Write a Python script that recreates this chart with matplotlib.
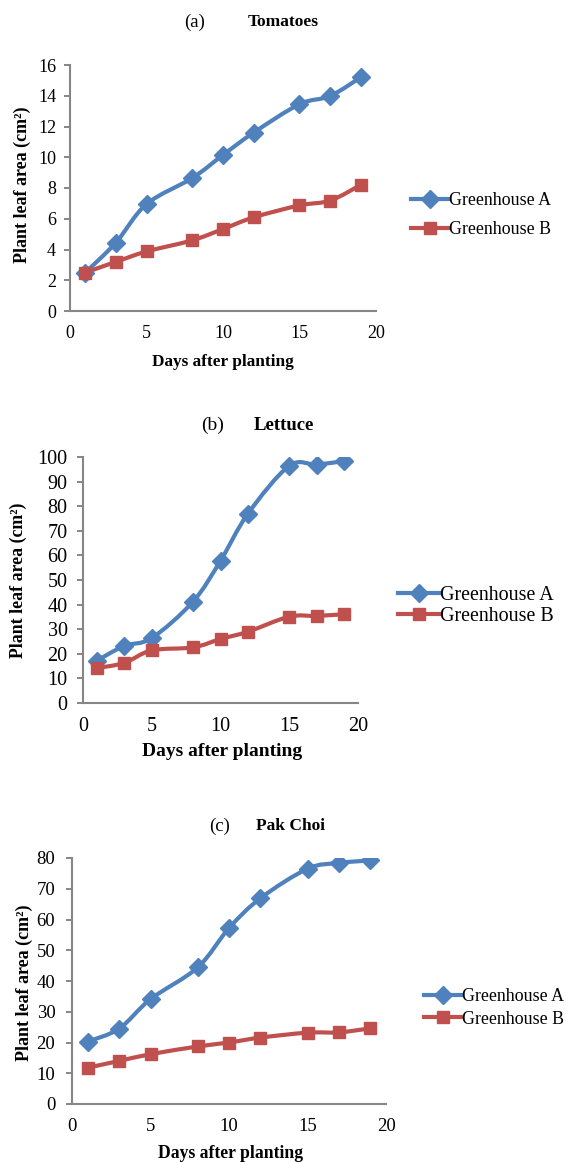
import matplotlib
matplotlib.use('Agg')
import matplotlib.pyplot as plt
import numpy as np
from matplotlib.path import Path
from matplotlib.patches import PathPatch
from matplotlib.lines import Line2D

plt.rcParams['font.family'] = ['Liberation Serif', 'DejaVu Serif']

days = [1, 3, 5, 8, 10, 12, 15, 17, 19]

tomato_a = [2.5, 4.45, 6.95, 8.65, 10.15, 11.6, 13.45, 13.98, 15.2]
tomato_b = [2.5, 3.2, 3.87, 4.6, 5.33, 6.09, 6.87, 7.18, 8.2]

lettuce_a = [17.2, 23.2, 26.4, 41.2, 57.8, 77.0, 96.4, 96.9, 98.4]
lettuce_b = [14.2, 16.3, 21.4, 22.6, 26.0, 29.0, 35.1, 35.4, 36.1]

pakchoi_a = [20.3, 24.5, 34.1, 44.4, 57.2, 66.9, 76.5, 78.4, 79.2]
pakchoi_b = [11.8, 14.0, 16.2, 18.7, 20.0, 21.6, 23.2, 23.3, 24.6]

series_names = ['Greenhouse A', 'Greenhouse B']
BLUE = '#4F81BD'
RED = '#C0504D'
AXIS_GREY = '#868686'
LW = 3.0
MS_A, MS_B = 9, 8.5

W, H = 566, 1162
fig = plt.figure(figsize=(W / 100, H / 100), dpi=100)


def px_box(left, right, top, bottom):
    return [left / W, 1 - bottom / H, (right - left) / W, (bottom - top) / H]


def smooth_path(x, y):
    # cubic bezier through every point (Excel-style smoothed line)
    pts = np.column_stack([np.asarray(x, float), np.asarray(y, float)])
    verts = [pts[0]]
    codes = [Path.MOVETO]
    n = len(pts)
    for i in range(n - 1):
        p0 = pts[i - 1] if i > 0 else pts[i]
        p1 = pts[i]
        p2 = pts[i + 1]
        p3 = pts[i + 2] if i + 2 < n else pts[i + 1]
        verts += [p1 + (p2 - p0) / 6.0, p2 - (p3 - p1) / 6.0, p2]
        codes += [Path.CURVE4] * 3
    return Path(verts, codes)


def panel(box, ya, yb, ymax, ystep, letter, name, title_xy, xlabel_xy,
          ylabel_xy, legend_xy, fs):
    tick_fs, ypad, xlab_fs, ylab_fs, leg_fs, name_fs, letter_fs, leg_sp = fs
    ax = fig.add_axes(px_box(*box))
    for ys, col, mk, ms in [(ya, BLUE, 'D', MS_A), (yb, RED, 's', MS_B)]:
        ax.add_patch(PathPatch(smooth_path(days, ys), fill=False,
                               edgecolor=col, lw=LW, capstyle='round',
                               joinstyle='round', zorder=3))
        ax.plot(days, ys, linestyle='none', marker=mk, ms=ms, color=col,
                zorder=4)
    ax.set_xlim(0, 20)
    ax.set_ylim(0, ymax)
    ax.set_xticks(np.arange(0, 21, 5))
    ax.set_yticks(np.arange(0, ymax + 0.1, ystep))
    for s in ['top', 'right']:
        ax.spines[s].set_visible(False)
    for s in ['left', 'bottom']:
        ax.spines[s].set_color(AXIS_GREY)
        ax.spines[s].set_linewidth(1.5)
    ax.tick_params(axis='y', direction='out', length=4, width=1.4,
                   color=AXIS_GREY, labelsize=tick_fs, pad=ypad)
    ax.tick_params(axis='x', length=0, labelsize=tick_fs, pad=10)

    fig.text(title_xy[0] / W, 1 - title_xy[2] / H, letter, ha='center',
             va='center', fontsize=letter_fs)
    fig.text(title_xy[1] / W, 1 - title_xy[2] / H, name, ha='center',
             va='center', fontsize=name_fs, fontweight='bold')
    fig.text(xlabel_xy[0] / W, 1 - xlabel_xy[1] / H, 'Days after planting',
             ha='center', va='center', fontsize=xlab_fs, fontweight='bold')
    fig.text(ylabel_xy[0] / W, 1 - ylabel_xy[1] / H, 'Plant leaf area (cm²)',
             ha='center', va='center', rotation=90, fontsize=ylab_fs,
             fontweight='bold')

    handles = [Line2D([], [], color=BLUE, lw=LW, marker='D', ms=MS_A),
               Line2D([], [], color=RED, lw=LW, marker='s', ms=MS_B)]
    fig.legend(handles, series_names, loc='center left',
               bbox_to_anchor=(legend_xy[0] / W, 1 - legend_xy[1] / H),
               frameon=False, fontsize=leg_fs, handlelength=2.1,
               handletextpad=0.0, borderpad=0, borderaxespad=0,
               labelspacing=leg_sp)
    return ax


panel((70, 376, 65, 311), tomato_a, tomato_b, 16, 2, '(a)', 'Tomatoes',
      (195, 283, 22), (223, 362), (22, 185), (411, 215),
      (13, 6, 12.4, 13, 12.9, 12.5, 13.5, 0.65))
panel((83, 358, 457, 703), lettuce_a, lettuce_b, 100, 10, '(b)', 'Lettuce',
      (213, 284, 425), (222, 752), (18, 580), (398, 606),
      (14.5, 7, 14, 12.8, 14.4, 13.5, 14, 0.12))
panel((72, 386, 858, 1104), pakchoi_a, pakchoi_b, 80, 10, '(c)', 'Pak Choi',
      (220, 290, 826), (230, 1153), (24, 983), (424, 1008),
      (13.5, 8, 12.7, 13, 12.9, 12.5, 13.5, 0.28))

fig.savefig('out.png', dpi=100)
